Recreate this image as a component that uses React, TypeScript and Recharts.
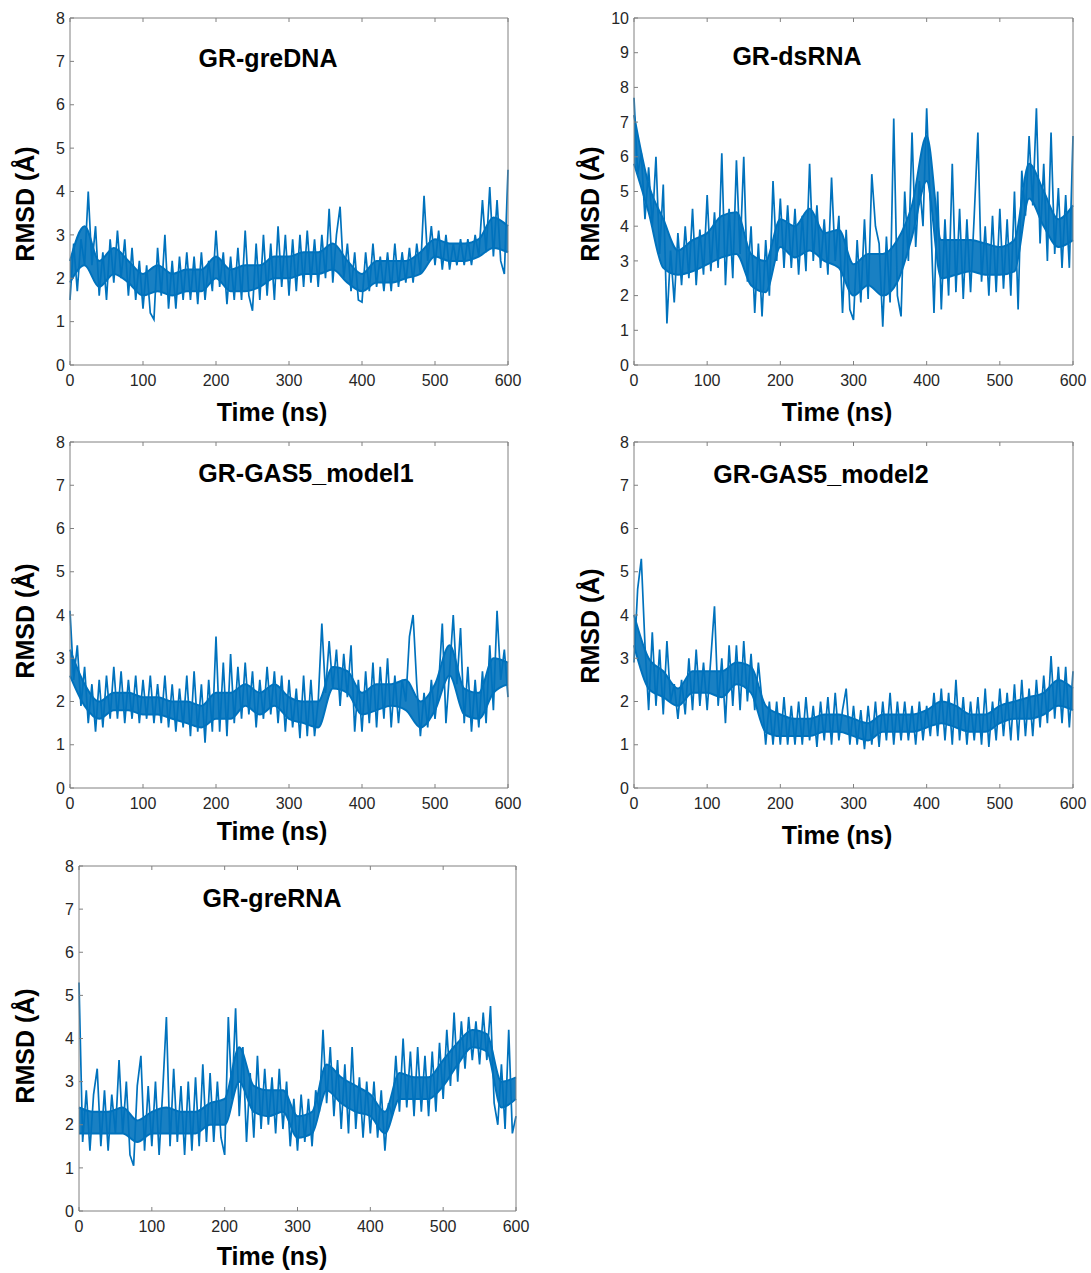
import React from 'react';
import { ComposedChart, Line, Area, XAxis, YAxis } from 'recharts';

// time axis (ns), one reading every 5 ns
const TIME = [
  0, 5, 10, 15, 20, 25, 30, 35, 40, 45,
  50, 55, 60, 65, 70, 75, 80, 85, 90, 95,
  100, 105, 110, 115, 120, 125, 130, 135, 140, 145,
  150, 155, 160, 165, 170, 175, 180, 185, 190, 195,
  200, 205, 210, 215, 220, 225, 230, 235, 240, 245,
  250, 255, 260, 265, 270, 275, 280, 285, 290, 295,
  300, 305, 310, 315, 320, 325, 330, 335, 340, 345,
  350, 355, 360, 365, 370, 375, 380, 385, 390, 395,
  400, 405, 410, 415, 420, 425, 430, 435, 440, 445,
  450, 455, 460, 465, 470, 475, 480, 485, 490, 495,
  500, 505, 510, 515, 520, 525, 530, 535, 540, 545,
  550, 555, 560, 565, 570, 575, 580, 585, 590, 595,
  600,
];

// dense core of each trace, read every 20 ns
const CORE_TIME = [
  0, 20, 40, 60, 80, 100, 120, 140, 160, 180,
  200, 220, 240, 260, 280, 300, 320, 340, 360, 380,
  400, 420, 440, 460, 480, 500, 520, 540, 560, 580,
  600,
];

const X_TICKS = [0, 100, 200, 300, 400, 500, 600];
const Y_TICKS_8 = [0, 1, 2, 3, 4, 5, 6, 7, 8];
const Y_TICKS_10 = [0, 1, 2, 3, 4, 5, 6, 7, 8, 9, 10];

const greDNA = [
  1.5, 2.8, 1.7, 2.9, 2.3, 4.0, 2.3, 3.2, 1.6, 2.6,
  1.5, 2.9, 1.9, 3.1, 2.0, 2.9, 1.6, 2.7, 1.5, 2.4,
  1.3, 2.3, 1.2, 1.05, 2.7, 1.6, 3.0, 1.3, 2.4, 1.3,
  2.5, 1.5, 2.6, 1.5, 2.5, 1.4, 2.6, 1.5, 2.4, 1.7,
  3.1, 1.8, 2.6, 1.4, 2.5, 1.5, 2.7, 1.5, 3.1, 1.6,
  1.25, 2.8, 1.5, 3.0, 1.6, 2.8, 1.5, 3.2, 1.8, 3.0,
  1.6, 2.9, 1.7, 3.0, 1.8, 3.1, 1.9, 2.9, 1.8, 3.0,
  2.0, 3.6, 1.9, 3.0, 3.65, 2.0, 2.8, 1.7, 2.6, 1.5,
  1.45, 2.6, 1.7, 2.8, 1.8, 2.5, 1.7, 2.6, 1.7, 2.8,
  1.8, 2.6, 1.9, 2.7, 1.9, 2.8, 2.1, 3.9, 2.4, 3.2,
  2.3, 3.1, 2.2, 3.0, 2.2, 2.8, 2.3, 2.9, 2.3, 2.9,
  2.3, 3.0, 2.5, 3.8, 2.6, 4.1, 2.5, 3.8, 2.4, 2.1,
  4.5,
];
const greDNALo = [
  1.9, 2.3, 1.8, 2.1, 1.9, 1.6, 1.7, 1.6, 1.7, 1.7,
  2.0, 1.7, 1.7, 1.8, 2.0, 2.0, 2.1, 2.1, 2.2, 1.9,
  1.7, 1.9, 1.9, 2.0, 2.1, 2.5, 2.4, 2.4, 2.5, 2.7,
  2.6,
];
const greDNAHi = [
  2.4, 3.2, 2.4, 2.7, 2.4, 2.1, 2.3, 2.1, 2.2, 2.2,
  2.5, 2.2, 2.3, 2.3, 2.5, 2.5, 2.6, 2.6, 2.8, 2.4,
  2.1, 2.4, 2.4, 2.4, 2.6, 2.9, 2.8, 2.8, 2.9, 3.4,
  3.2,
];

const dsRNA = [
  7.7, 5.5, 6.1, 4.2, 5.7, 4.0, 6.0, 3.2, 5.2, 1.2,
  3.3, 1.8, 3.8, 2.3, 4.0, 2.5, 4.5, 2.3, 3.9, 2.6,
  4.9, 2.7, 4.4, 2.8, 6.1, 2.3, 4.5, 2.5, 5.9, 3.2,
  6.0, 2.4, 4.0, 1.5, 3.5, 1.4, 3.6, 2.0, 5.3, 3.0,
  4.8, 2.8, 4.6, 2.8, 4.5, 2.6, 4.3, 2.7, 5.8, 3.0,
  4.6, 2.8, 4.2, 2.6, 5.4, 3.0, 4.3, 1.5, 3.9, 1.6,
  1.3, 3.6, 1.8, 4.2, 1.9, 5.5, 4.0, 3.5, 1.1, 3.7,
  1.8, 7.1, 2.0, 1.4, 5.0, 3.0, 6.7, 3.4, 5.3, 4.0,
  7.4, 4.6, 1.5, 5.0, 1.6, 4.2, 2.0, 5.8, 2.1, 4.5,
  1.9, 4.2, 2.1, 4.3, 6.7, 2.4, 4.0, 2.0, 4.3, 2.1,
  4.5, 2.2, 4.2, 2.0, 5.0, 1.6, 5.6, 4.3, 6.6, 4.6,
  7.4, 3.5, 5.8, 3.0, 6.7, 3.2, 5.1, 2.8, 4.9, 2.8,
  6.6,
];
const dsRNALo = [
  5.8, 4.4, 2.8, 2.6, 2.7, 2.9, 3.1, 3.2, 2.3, 2.1,
  3.4, 3.1, 3.3, 3.0, 2.8, 2.0, 2.3, 2.0, 2.4, 3.7,
  5.3, 2.5, 2.6, 2.7, 2.6, 2.6, 2.7, 4.8, 4.0, 3.4,
  3.6,
];
const dsRNAHi = [
  7.2, 5.2, 4.2, 3.3, 3.6, 3.8, 4.3, 4.4, 3.2, 3.0,
  4.2, 4.0, 4.5, 3.8, 3.9, 2.9, 3.2, 3.2, 3.6, 4.6,
  6.6, 3.6, 3.6, 3.6, 3.5, 3.4, 3.6, 5.8, 5.0, 4.2,
  4.6,
];

const gas5Model1 = [
  4.1, 2.5, 3.3, 1.9, 2.8, 1.5, 2.4, 1.3, 2.5, 1.4,
  2.6, 1.6, 2.8, 1.6, 2.7, 1.5, 2.5, 1.6, 2.6, 1.5,
  2.5, 1.6, 2.6, 1.5, 2.4, 1.5, 2.6, 1.4, 2.4, 1.3,
  2.3, 1.4, 2.6, 1.2, 2.7, 1.3, 2.4, 1.05, 2.5, 1.3,
  3.5, 1.3, 2.9, 1.2, 3.1, 1.5, 2.8, 1.6, 2.9, 1.7,
  2.7, 1.4, 2.5, 1.6, 2.8, 1.7, 2.7, 1.5, 2.6, 1.3,
  2.5, 1.4, 2.3, 1.15, 2.6, 1.2, 2.5, 1.2, 2.0, 3.8,
  2.2, 3.4, 2.3, 3.2, 1.9, 3.1, 2.1, 3.3, 1.3, 2.5,
  1.3, 2.7, 1.5, 2.9, 1.4, 2.8, 1.6, 3.0, 1.4, 2.6,
  1.5, 2.5, 2.0, 3.5, 4.0, 2.4, 1.2, 2.2, 1.4, 2.5,
  1.6, 2.4, 3.8, 1.5, 2.7, 4.0, 2.4, 3.7, 1.5, 2.8,
  1.3, 2.5, 1.4, 2.7, 1.5, 3.3, 1.8, 4.1, 2.5, 3.2,
  2.1,
];
const gas5Model1Lo = [
  2.6, 1.9, 1.6, 1.8, 1.8, 1.7, 1.7, 1.6, 1.5, 1.4,
  1.6, 1.6, 1.9, 1.7, 1.9, 1.6, 1.5, 1.4, 2.3, 2.2,
  1.7, 1.8, 1.9, 1.8, 1.4, 1.8, 2.6, 1.7, 1.6, 2.2,
  2.4,
];
const gas5Model1Hi = [
  3.2, 2.4, 2.0, 2.2, 2.2, 2.1, 2.1, 2.0, 2.0, 1.9,
  2.2, 2.2, 2.4, 2.2, 2.4, 2.1, 2.0, 2.0, 2.8, 2.7,
  2.2, 2.4, 2.4, 2.5, 2.0, 2.4, 3.3, 2.3, 2.2, 3.0,
  2.9,
];

const gas5Model2 = [
  2.9, 4.6, 5.3, 3.3, 1.8, 3.6, 1.9, 3.2, 1.7, 3.4,
  2.0, 2.4, 1.6, 2.5, 1.7, 3.0, 1.8, 3.2, 1.9, 2.9,
  1.8, 3.0, 4.2, 1.9, 3.0, 1.5, 3.3, 1.9, 3.3, 1.8,
  3.4, 2.0, 3.1, 1.8, 2.9, 2.0, 1.0, 2.0, 1.0, 2.0,
  1.0, 2.1, 1.0, 1.9, 1.0, 2.0, 1.0, 2.1, 1.1, 1.9,
  0.95, 2.0, 1.1, 2.1, 1.0, 2.2, 1.1, 1.8, 2.3, 1.0,
  1.9, 1.0, 1.8, 0.9, 1.9, 1.0, 2.0, 0.95, 2.0, 1.1,
  2.2, 1.0, 2.0, 1.1, 2.0, 1.1, 1.9, 1.0, 2.0, 1.1,
  1.9, 1.2, 2.2, 1.2, 2.3, 1.1, 2.2, 1.0, 2.5, 1.1,
  2.1, 1.0, 2.0, 1.1, 2.1, 1.0, 2.3, 0.95, 2.0, 1.1,
  2.3, 1.2, 2.2, 1.1, 2.4, 1.1, 2.5, 1.2, 2.3, 1.2,
  2.5, 1.4, 2.6, 1.5, 3.05, 1.6, 2.8, 1.5, 2.8, 1.4,
  2.7,
];
const gas5Model2Lo = [
  3.3, 2.3, 2.1, 1.9, 2.2, 2.2, 2.1, 2.4, 2.2, 1.3,
  1.2, 1.2, 1.2, 1.3, 1.3, 1.2, 1.1, 1.3, 1.3, 1.3,
  1.4, 1.5, 1.4, 1.3, 1.3, 1.5, 1.6, 1.6, 1.7, 1.9,
  1.8,
];
const gas5Model2Hi = [
  4.0, 3.0, 2.7, 2.3, 2.7, 2.7, 2.7, 2.9, 2.8, 1.9,
  1.7, 1.6, 1.6, 1.7, 1.7, 1.6, 1.5, 1.7, 1.7, 1.7,
  1.8, 2.0, 1.9, 1.7, 1.7, 1.9, 2.0, 2.1, 2.2, 2.5,
  2.3,
];

const greRNA = [
  5.3, 1.6, 2.8, 1.4, 2.7, 3.3, 1.5, 2.8, 1.4, 2.7,
  1.8, 3.5, 1.8, 3.0, 1.3, 1.05, 2.9, 3.6, 1.4, 2.9,
  1.5, 3.0, 1.3, 2.8, 4.5, 1.5, 3.3, 1.6, 2.9, 1.3,
  3.0, 1.4, 3.1, 1.5, 3.4, 1.6, 3.2, 1.6, 3.0, 1.7,
  1.3, 4.5, 2.6, 4.7, 2.2, 3.8, 1.6, 3.2, 1.7, 3.6,
  1.9, 3.3, 2.0, 3.1, 1.8, 3.3, 1.9, 3.0, 1.5, 2.6,
  1.4, 2.7, 1.6, 2.6, 1.5, 2.8, 2.3, 4.2, 2.5, 3.8,
  2.2, 3.5, 1.9, 3.4, 1.8, 3.8, 1.9, 3.1, 1.7, 3.0,
  1.8, 3.0, 1.7, 2.8, 1.4, 2.5, 2.2, 3.6, 2.3, 4.0,
  2.4, 3.7, 2.2, 3.8, 2.3, 3.6, 2.2, 3.7, 2.3, 3.9,
  2.6, 4.2, 2.9, 4.6, 3.0, 4.4, 3.3, 4.5, 3.5, 4.4,
  3.4, 4.6, 3.5, 4.75, 2.5, 2.0, 3.4, 1.9, 4.2, 1.8,
  2.2,
];
const greRNALo = [
  1.8, 1.8, 1.8, 1.8, 1.6, 1.8, 1.8, 1.8, 1.8, 2.0,
  2.0, 3.0, 2.3, 2.2, 2.3, 1.7, 1.8, 2.8, 2.5, 2.3,
  2.2, 1.8, 2.6, 2.6, 2.6, 2.9, 3.4, 3.8, 3.7, 2.4,
  2.6,
];
const greRNAHi = [
  2.4, 2.3, 2.3, 2.4, 2.1, 2.3, 2.4, 2.3, 2.3, 2.5,
  2.6, 3.8, 2.9, 2.8, 2.8, 2.2, 2.3, 3.4, 3.1, 2.9,
  2.7, 2.3, 3.2, 3.1, 3.1, 3.5, 3.9, 4.2, 4.1, 3.0,
  3.1,
];

const toRows = (vals: number[]) => TIME.map((t, i) => ({ t, rmsd: vals[i] }));
const toCore = (lo: number[], hi: number[]) =>
  CORE_TIME.map((t, i) => ({ t, band: [lo[i], hi[i]] }));

const FONT = '"Liberation Sans", Arial, Helvetica, sans-serif';
const AXIS = '#808080';
const TICK_TEXT = '#262626';
const BLUE = '#0072BD';

const boldText: React.CSSProperties = {
  position: 'absolute',
  fontFamily: FONT,
  fontWeight: 'bold',
  fontSize: 25,
  color: '#000',
  whiteSpace: 'nowrap',
  transform: 'translate(-50%, -50%)',
};

const NoTick = () => <g />;

type PanelProps = {
  title: string;
  values: number[];
  lo: number[];
  hi: number[];
  yMax: number;
  yTicks: number[];
  plotLeft: number;
  plotTop: number;
  plotW: number;
  plotH: number;
  titleX: number;
  titleY: number;
  xLabelX: number;
  xLabelY: number;
  yLabelX: number;
  yLabelY: number;
};

const Panel = (p: PanelProps) => {
  const left = 50;
  const top = 10;
  const bottom = 30;
  const right = 25;
  const tickStyle = { fill: TICK_TEXT, fontSize: 16, fontFamily: FONT };
  return (
    <>
      <div style={{ position: 'absolute', left: p.plotLeft - left, top: p.plotTop - top - 1 }}>
        <ComposedChart
          width={left + p.plotW + 1 + right}
          height={top + 1 + p.plotH + bottom}
          data={toRows(p.values)}
          margin={{ top, right, left: 0, bottom: 0 }}
        >
          <XAxis
            xAxisId="b"
            dataKey="t"
            type="number"
            domain={[0, 600]}
            ticks={X_TICKS}
            height={bottom}
            tickSize={-4}
            tickMargin={14}
            stroke={AXIS}
            tick={tickStyle}
            interval={0}
          />
          <XAxis
            xAxisId="tp"
            dataKey="t"
            type="number"
            orientation="top"
            domain={[0, 600]}
            ticks={X_TICKS}
            height={1}
            tickSize={-4}
            stroke={AXIS}
            tick={NoTick}
            interval={0}
          />
          <YAxis
            yAxisId="l"
            type="number"
            domain={[0, p.yMax]}
            ticks={p.yTicks}
            width={left}
            tickSize={-4}
            tickMargin={9}
            stroke={AXIS}
            tick={tickStyle}
            interval={0}
          />
          <YAxis
            yAxisId="r"
            type="number"
            orientation="right"
            domain={[0, p.yMax]}
            ticks={p.yTicks}
            width={1}
            tickSize={-4}
            stroke={AXIS}
            tick={NoTick}
            interval={0}
          />
          <Area
            xAxisId="b"
            yAxisId="l"
            data={toCore(p.lo, p.hi)}
            type="monotone"
            dataKey="band"
            stroke={BLUE}
            strokeWidth={2}
            fill={BLUE}
            fillOpacity={0.9}
            isAnimationActive={false}
          />
          <Line
            xAxisId="b"
            yAxisId="l"
            type="linear"
            dataKey="rmsd"
            stroke={BLUE}
            strokeWidth={1.7}
            dot={false}
            isAnimationActive={false}
          />
        </ComposedChart>
      </div>
      <div style={{ ...boldText, left: p.titleX, top: p.titleY }}>{p.title}</div>
      <div style={{ ...boldText, left: p.xLabelX, top: p.xLabelY }}>Time (ns)</div>
      <div
        style={{
          ...boldText,
          left: p.yLabelX,
          top: p.yLabelY,
          transform: 'translate(-50%, -50%) rotate(-90deg)',
        }}
      >
        RMSD (Å)
      </div>
    </>
  );
};

export default function App() {
  return (
    <div
      style={{
        position: 'absolute',
        left: 0,
        top: 0,
        width: 1091,
        height: 1273,
        background: '#fff',
        overflow: 'hidden',
      }}
    >
      <Panel
        title="GR-greDNA"
        values={greDNA}
        lo={greDNALo}
        hi={greDNAHi}
        yMax={8}
        yTicks={Y_TICKS_8}
        plotLeft={70}
        plotTop={18}
        plotW={438}
        plotH={347}
        titleX={268}
        titleY={58}
        xLabelX={272}
        xLabelY={412}
        yLabelX={25}
        yLabelY={204}
      />
      <Panel
        title="GR-dsRNA"
        values={dsRNA}
        lo={dsRNALo}
        hi={dsRNAHi}
        yMax={10}
        yTicks={Y_TICKS_10}
        plotLeft={634}
        plotTop={18}
        plotW={439}
        plotH={347}
        titleX={797}
        titleY={56}
        xLabelX={837}
        xLabelY={412}
        yLabelX={590}
        yLabelY={204}
      />
      <Panel
        title="GR-GAS5_model1"
        values={gas5Model1}
        lo={gas5Model1Lo}
        hi={gas5Model1Hi}
        yMax={8}
        yTicks={Y_TICKS_8}
        plotLeft={70}
        plotTop={442}
        plotW={438}
        plotH={346}
        titleX={306}
        titleY={473}
        xLabelX={272}
        xLabelY={831}
        yLabelX={25}
        yLabelY={621}
      />
      <Panel
        title="GR-GAS5_model2"
        values={gas5Model2}
        lo={gas5Model2Lo}
        hi={gas5Model2Hi}
        yMax={8}
        yTicks={Y_TICKS_8}
        plotLeft={634}
        plotTop={442}
        plotW={439}
        plotH={346}
        titleX={821}
        titleY={474}
        xLabelX={837}
        xLabelY={835}
        yLabelX={590}
        yLabelY={626}
      />
      <Panel
        title="GR-greRNA"
        values={greRNA}
        lo={greRNALo}
        hi={greRNAHi}
        yMax={8}
        yTicks={Y_TICKS_8}
        plotLeft={79}
        plotTop={866}
        plotW={437}
        plotH={345}
        titleX={272}
        titleY={898}
        xLabelX={272}
        xLabelY={1256}
        yLabelX={25}
        yLabelY={1046}
      />
    </div>
  );
}
